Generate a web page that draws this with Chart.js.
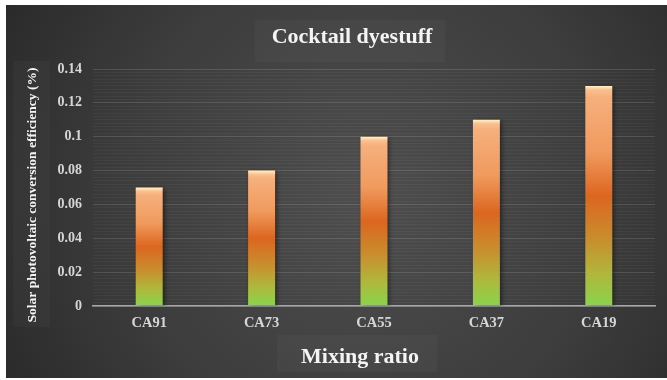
<!DOCTYPE html>
<html>
<head>
<meta charset="utf-8">
<script src="https://cdn.jsdelivr.net/npm/chart.js@4.4.1/dist/chart.umd.min.js"></script>
<style>
  html, body { margin: 0; padding: 0; background: #ffffff; }
  #wrap { position: absolute; left: 6px; top: 5px; width: 661px; height: 373px; }
</style>
</head>
<body>
<div id="wrap"><canvas id="c" width="661" height="373"></canvas></div>
<script>
// Efficiency per mixing ratio
const categories = ['CA91', 'CA73', 'CA55', 'CA37', 'CA19'];
const efficiency = [0.07, 0.08, 0.10, 0.11, 0.13];
const yTickValues = [0, 0.02, 0.04, 0.06, 0.08, 0.1, 0.12, 0.14];
const chartTitle = 'Cocktail dyestuff';
const xTitle = 'Mixing ratio';
const yTitle = 'Solar photovoltaic conversion efficiency (%)';

const SERIF = '"Liberation Serif", "Times New Roman", serif';

// Vertical gradient spanning each bar from its top down to the baseline
function barFill(ctx) {
  const chart = ctx.chart;
  if (!chart.chartArea || ctx.raw == null) return '#e8742c';
  const y = chart.scales.y;
  const top = y.getPixelForValue(ctx.raw);
  const bottom = y.getPixelForValue(0);
  const h = Math.max(bottom - top, 1);
  const g = chart.ctx.createLinearGradient(0, top, 0, bottom);
  const cap = Math.min(4 / h, 0.1);
  g.addColorStop(0, '#fff2cc');
  g.addColorStop(cap, '#f8c090');
  g.addColorStop(cap + 0.03, '#f6b07c');
  g.addColorStop(0.30, '#f09a5e');
  g.addColorStop(0.50, '#dc6620');
  g.addColorStop(0.70, '#c98e2e');
  g.addColorStop(0.86, '#afb83c');
  g.addColorStop(1, '#8ad44c');
  return g;
}

// Dark radial backdrop with the faint panels behind the titles
const backdrop = {
  id: 'backdrop',
  beforeDraw(chart) {
    const { ctx, width, height } = chart;
    ctx.save();
    const g = ctx.createRadialGradient(360, 190, 20, 360, 190, 420);
    g.addColorStop(0, '#4d4d4d');
    g.addColorStop(0.55, '#3d3d3d');
    g.addColorStop(1, '#292929');
    ctx.fillStyle = g;
    ctx.fillRect(0, 0, width, height);
    ctx.fillStyle = 'rgba(255,255,255,0.028)';
    ctx.fillRect(249, 15, 190, 42);   // chart title panel
    ctx.fillRect(7, 56, 37, 266);     // y title panel
    ctx.fillRect(271, 330, 160, 37);  // x title panel
    ctx.restore();
  },
  afterDraw(chart) {
    const { ctx } = chart;
    ctx.save();
    ctx.fillStyle = '#f4f4f4';
    ctx.textAlign = 'center';
    ctx.textBaseline = 'alphabetic';
    ctx.font = 'bold 22px ' + SERIF;
    ctx.fillText(chartTitle, 346, 38);
    ctx.fillText(xTitle, 354, 358);
    ctx.translate(27, 190);
    ctx.rotate(-Math.PI / 2);
    ctx.textBaseline = 'middle';
    ctx.font = 'bold 13.5px ' + SERIF;
    ctx.fillText(yTitle, 0, 0);
    ctx.restore();
  }
};

// Soft drop shadow under the bars
const barShadow = {
  id: 'barShadow',
  beforeDatasetsDraw(chart) {
    const { ctx } = chart;
    ctx.save();
    ctx.shadowColor = 'rgba(0,0,0,0.55)';
    ctx.shadowBlur = 5;
    ctx.shadowOffsetX = 2;
    ctx.shadowOffsetY = 1;
  },
  afterDatasetsDraw(chart) {
    chart.ctx.restore();
  }
};

new Chart(document.getElementById('c'), {
  type: 'bar',
  data: {
    labels: categories,
    datasets: [{
      data: efficiency,
      backgroundColor: barFill,
      borderWidth: 0,
      categoryPercentage: 1,
      barPercentage: 0.24
    }]
  },
  options: {
    responsive: false,
    animation: false,
    devicePixelRatio: 1,
    layout: { padding: { left: 0, right: 12, top: 64, bottom: 0 } },
    plugins: { legend: { display: false }, tooltip: { enabled: false }, title: { display: false } },
    scales: {
      x: {
        grid: { display: false, drawTicks: false },
        border: { display: true, color: '#a8a8a8', width: 1.5 },
        ticks: { color: '#d6d6d6', padding: 9, font: { family: SERIF, size: 14.5, weight: 'bold' } },
        afterFit(s) { s.height = 72; }
      },
      yMinor: {
        position: 'left',
        min: 0, max: 0.14,
        ticks: { display: false, stepSize: 0.002 },
        grid: { color: 'rgba(255,255,255,0.04)', drawTicks: false },
        border: { display: false },
        afterFit(s) { s.width = 0; }
      },
      y: {
        position: 'left',
        min: 0, max: 0.14,
        afterBuildTicks(s) { s.ticks = yTickValues.map(v => ({ value: v })); },
        ticks: {
          color: '#d6d6d6', padding: 11,
          font: { family: SERIF, size: 14, weight: 'bold' },
          callback: v => String(Number(v.toFixed(2)))
        },
        grid: { color: 'rgba(255,255,255,0.1)', drawTicks: false },
        border: { display: false },
        afterFit(s) { s.width = 87; }
      }
    }
  },
  plugins: [backdrop, barShadow]
});
</script>
</body>
</html>
